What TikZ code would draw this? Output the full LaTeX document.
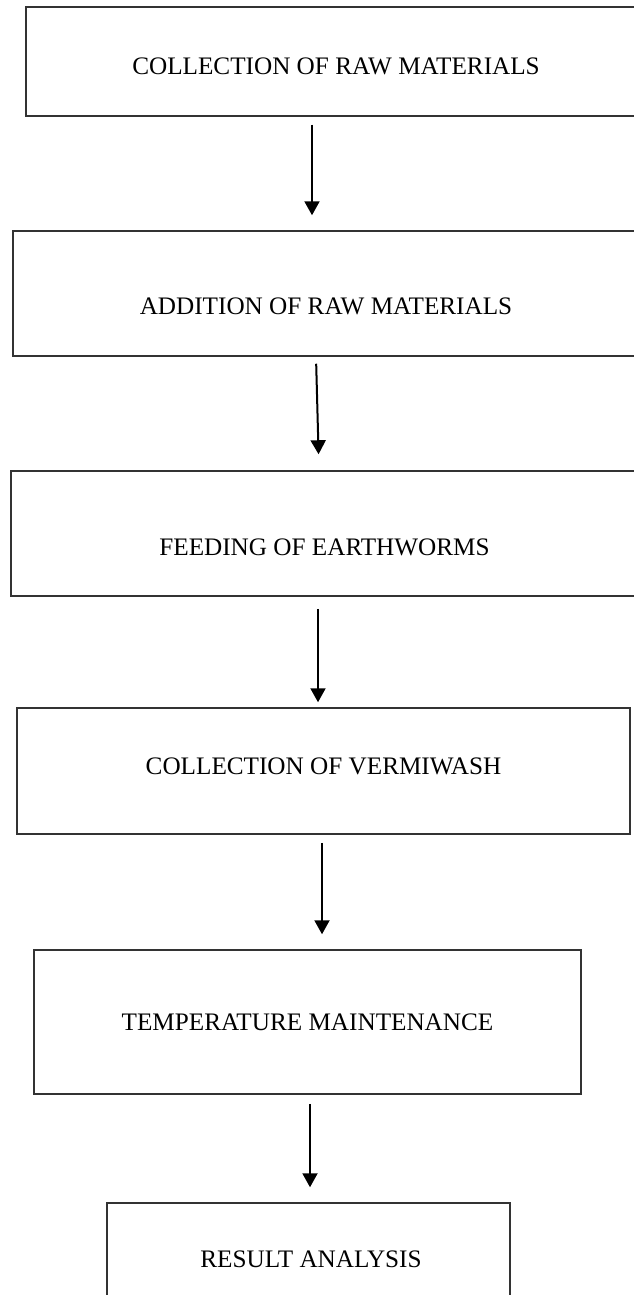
\documentclass[tikz,border=0pt]{standalone}
\usepackage{fontspec}
\setmainfont{Liberation Serif}
\usetikzlibrary{arrows.meta}

\begin{document}
\begin{tikzpicture}[x=1pt,y=-1pt,
    stage/.style={draw=black!80, line width=1.5pt, inner sep=0pt, fill=white},
    flow/.style={-{Triangle[width=15pt,length=14pt]}, line width=2pt},
    font=\fontsize{25.2}{30}\selectfont]
    \useasboundingbox (0,0) rectangle (633,1295);
    \node[stage, minimum width=620pt, minimum height=109pt,
      label={[yshift=-4.5pt]center:COLLECTION OF RAW MATERIALS}] (c1) at (336,61.5) {};
    \node[stage, minimum width=626pt, minimum height=125pt,
      label={[yshift=-12.5pt]center:ADDITION OF RAW MATERIALS}] (c2) at (326,293.5) {};
    \node[stage, minimum width=627pt, minimum height=125pt,
      label={[yshift=-13.5pt]center:FEEDING OF EARTHWORMS}] (c3) at (324.5,533.5) {};
    \node[stage, minimum width=613pt, minimum height=126pt,
      label={[yshift=5pt]center:COLLECTION OF VERMIWASH}] (c4) at (323.5,771) {};
    \node[stage, minimum width=547pt, minimum height=144pt,
      label={center:TEMPERATURE MAINTENANCE}] (c5) at (307.5,1022) {};
    \node[stage, minimum width=403pt, minimum height=117pt,
      label={[xshift=2.5pt,yshift=2.5pt]center:RESULT ANALYSIS}] (c6) at (308.5,1261.5) {};
    \path[flow, shorten <=8pt, shorten >=15pt] ([xshift=-24pt]c1.south) edge ([xshift=-14pt]c2.north);
    \path[flow, shorten <=7pt, shorten >=16pt] ([xshift=-10pt]c2.south) edge ([xshift=-5.5pt]c3.north);
    \path[flow, shorten <=12pt, shorten >=5pt] ([xshift=-6.5pt]c3.south) edge ([xshift=-5.5pt]c4.north);
    \path[flow, shorten <=8pt, shorten >=15pt] ([xshift=-1.5pt]c4.south) edge ([xshift=14.5pt]c5.north);
    \path[flow, shorten <=9pt, shorten >=15pt] ([xshift=2.5pt]c5.south) edge ([xshift=1.5pt]c6.north);
  \end{tikzpicture}
\end{document}
